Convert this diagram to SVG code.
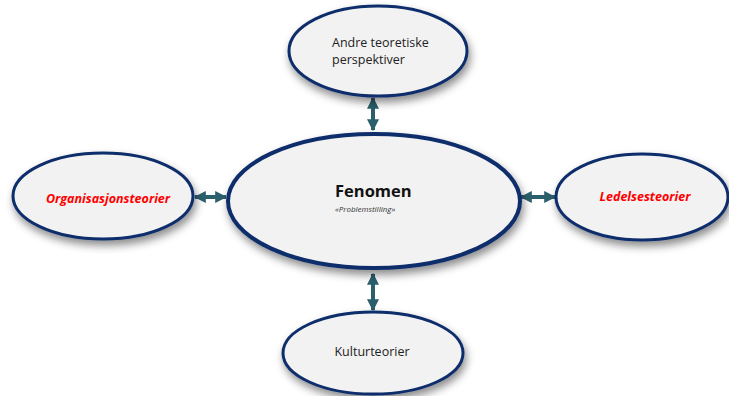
<svg xmlns="http://www.w3.org/2000/svg" width="729" height="396" viewBox="0 0 729 396">
<style>
.node{fill:#f2f2f2;stroke:#0f2d6b;stroke-width:3;filter:url(#sh)}
.big{stroke-width:4}
.t{font-family:"Open Sans","Liberation Sans",sans-serif;fill:#222;font-size:12.5px}
.red{font-family:"Open Sans","Liberation Sans",sans-serif;fill:#ff0000;font-weight:bold;font-style:italic;font-size:12.5px}
.conn{stroke:#2b5f6c;stroke-width:4;fill:none;marker-start:url(#ah);marker-end:url(#ah)}
</style>
<defs>
<filter id="sh" x="-20%" y="-20%" width="150%" height="160%">
<feDropShadow dx="2" dy="5" stdDeviation="4" flood-color="#000" flood-opacity="0.45"/>
</filter>
<marker id="ah" viewBox="0 0 10 10" refX="9" refY="5" markerWidth="3" markerHeight="3.4" orient="auto-start-reverse" markerUnits="strokeWidth">
<path d="M0,0 L10,5 L0,10 z" fill="#2b5f6c"/>
</marker>
</defs>
<g id="connectors">
<line class="conn" x1="373" y1="98" x2="373" y2="130"/>
<line class="conn" x1="373" y1="274" x2="373" y2="310"/>
<line class="conn" x1="195" y1="197" x2="226" y2="197"/>
<line class="conn" x1="521" y1="197" x2="555" y2="197"/>
</g>
<g id="top">
<ellipse class="node" cx="378" cy="51" rx="89" ry="45"/>
<text class="t" x="332" y="47">Andre teoretiske</text>
<text class="t" x="332" y="64">perspektiver</text>
</g>
<g id="center">
<ellipse class="node big" cx="374" cy="201" rx="146" ry="67"/>
<text x="335" y="197" font-family="Open Sans, Liberation Sans, sans-serif" font-weight="bold" font-size="16.5" fill="#111">Fenomen</text>
<text x="335" y="212" font-family="Open Sans, Liberation Sans, sans-serif" font-style="italic" font-size="8" fill="#333">«Problemstilling»</text>
</g>
<g id="left">
<ellipse class="node" cx="103" cy="196" rx="90" ry="43"/>
<text class="red" x="108" y="203" text-anchor="middle">Organisasjonsteorier</text>
</g>
<g id="right">
<ellipse class="node" cx="642" cy="197" rx="86" ry="43"/>
<text class="red" x="645" y="201" text-anchor="middle">Ledelsesteorier</text>
</g>
<g id="bottom">
<ellipse class="node" cx="373" cy="353" rx="90" ry="41"/>
<text class="t" x="372" y="356" text-anchor="middle">Kulturteorier</text>
</g>
</svg>
